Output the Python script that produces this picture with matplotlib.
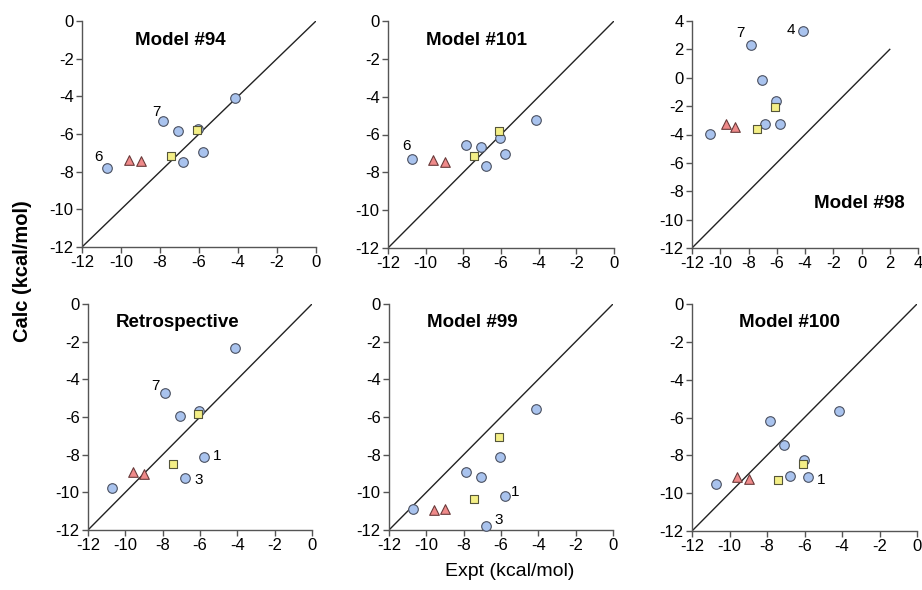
import numpy as np
import matplotlib
matplotlib.use('Agg')
import matplotlib.pyplot as plt

plt.rcParams['font.family'] = ['Liberation Sans', 'DejaVu Sans']
plt.rcParams['axes.unicode_minus'] = False

# experimental values (same compounds in every panel)
circ_expt = [-10.72, -7.85, -7.07, -6.05, -6.80, -5.80, -4.14]
sq_expt = [-7.42, -6.10]
tri_expt = [-9.60, -8.98]

# calculated values per model
m94_circ = [-7.79, -5.29, -5.86, -5.73, -7.49, -6.94, -4.07]
m94_sq = [-7.15, -5.79]
m94_tri = [-7.38, -7.43]

m101_circ = [-7.32, -6.53, -6.65, -6.21, -7.64, -7.02, -5.21]
m101_sq = [-7.15, -5.81]
m101_tri = [-7.36, -7.43]

m98_circ = [-3.96, 2.33, -0.15, -1.61, -3.28, -3.28, 3.30]
m98_sq = [-3.58, -2.03]
m98_tri = [-3.23, -3.46]

retro_circ = [-9.79, -4.75, -5.94, -5.69, -9.22, -8.14, -2.32]
retro_sq = [-8.49, -5.83]
retro_tri = [-8.90, -9.00]

m99_circ = [-10.88, -8.92, -9.19, -8.12, -11.79, -10.21, -5.59]
m99_sq = [-10.37, -7.04]
m99_tri = [-10.96, -10.90]

m100_circ = [-9.49, -6.17, -7.48, -8.25, -9.10, -9.15, -5.68]
m100_sq = [-9.28, -8.48]
m100_tri = [-9.12, -9.26]

# compound labels: circle index -> text
circ_names = {0: '6', 1: '7', 4: '3', 5: '1', 6: '4'}

W, H = 922, 590
fig = plt.figure(figsize=(W / 100, H / 100), dpi=100)

panels = [
    # title, circ, sq, tri, box px (l, t, r, b), max, title pos, labels [(idx, dx, dy)]
    ('Model #94', m94_circ, m94_sq, m94_tri, (82, 21, 316, 247), 0,
     (0.42, 0.915), [(0, -6, 8), (1, -5, 6.5)]),
    ('Model #101', m101_circ, m101_sq, m101_tri, (388, 21, 614, 248), 0,
     (0.39, 0.913), [(0, -4, 10)]),
    ('Model #98', m98_circ, m98_sq, m98_tri, (692, 21, 918, 248), 4,
     (0.74, 0.198), [(1, -7, 8.7), (6, -9, 1)]),
    ('Retrospective', retro_circ, retro_sq, retro_tri, (88, 304, 312, 530), 0,
     (0.40, 0.918), [(1, -7, 5.5), (5, 10, 1), (4, 9.6, -1.4)]),
    ('Model #99', m99_circ, m99_sq, m99_tri, (389, 304, 613, 530), 0,
     (0.37, 0.918), [(5, 7.3, 2.8), (4, 9, 4)]),
    ('Model #100', m100_circ, m100_sq, m100_tri, (692, 304, 917, 531), 0,
     (0.435, 0.918), [(5, 9.5, -2)]),
]

for title, circ, sq, tri, (l, t, r, b), top, tpos, labels in panels:
    ax = fig.add_axes([l / W, 1 - b / H, (r - l) / W, (b - t) / H])
    diag_end = 2 if top == 4 else 0
    ax.plot([-12, diag_end], [-12, diag_end], color='#222222', lw=1.0, zorder=1)
    ax.scatter(circ_expt, circ, s=48, marker='o', facecolor='#a9c3ee',
               edgecolor='#4a5060', linewidth=0.8, zorder=3, clip_on=False)
    ax.scatter(tri_expt, tri, s=48, marker='^', facecolor='#ef8a8a',
               edgecolor='#6a3a3a', linewidth=0.8, zorder=3, clip_on=False)
    ax.scatter(sq_expt, sq, s=34, marker='s', facecolor='#f4ef86',
               edgecolor='#55553a', linewidth=0.8, zorder=4, clip_on=False)
    for idx, dx, dy in labels:
        ax.annotate(circ_names[idx], (circ_expt[idx], circ[idx]),
                    xytext=(dx, dy), textcoords='offset points',
                    ha='center', va='center', fontsize=11)
    ax.text(tpos[0], tpos[1], title, transform=ax.transAxes, ha='center',
            va='center', fontsize=13.5, fontweight='bold')
    ax.set_xlim(-12, top)
    ax.set_ylim(-12, top)
    ax.set_xticks(np.arange(-12, top + 1, 2))
    ax.set_yticks(np.arange(-12, top + 1, 2))
    for s in ['top', 'right']:
        ax.spines[s].set_visible(False)
    for s in ['left', 'bottom']:
        ax.spines[s].set_color('#555555')
        ax.spines[s].set_linewidth(1.0)
    ax.tick_params(direction='out', length=4, width=1.0, color='#555555',
                   labelsize=12, pad=2)

fig.text(23 / W, 1 - 271 / H, 'Calc (kcal/mol)', rotation=90, ha='center',
         va='center', fontsize=14.5, fontweight='bold')
fig.text(510 / W, 1 - 572 / H, 'Expt (kcal/mol)', ha='center', va='center',
         fontsize=14)

fig.savefig('out.png', dpi=100)
